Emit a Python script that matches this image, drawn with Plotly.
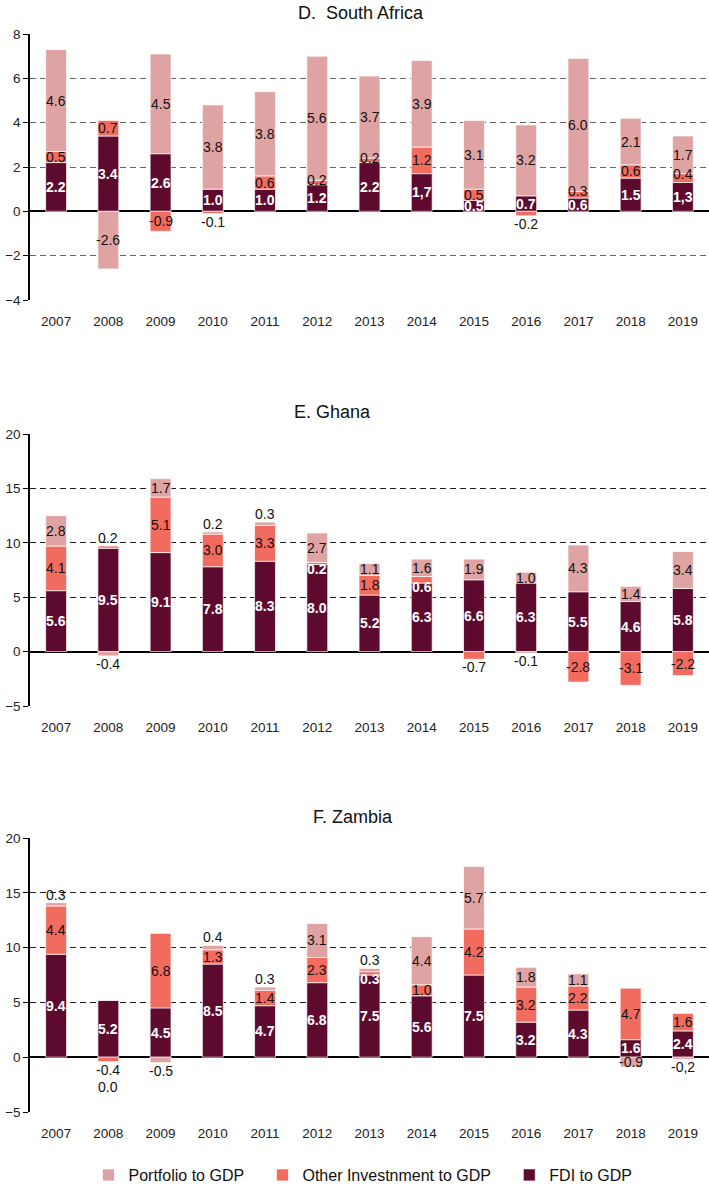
import plotly.graph_objects as go
from plotly.subplots import make_subplots

YEARS = list(range(2007, 2020))

# South Africa (% of GDP)
SA_FDI = [2.2, 3.4, 2.6, 1.0, 1.0, 1.2, 2.2, 1.7, 0.5, 0.7, 0.6, 1.5, 1.3]
SA_OTHER = [0.5, 0.7, -0.9, -0.1, 0.6, 0.2, 0.2, 1.2, 0.5, -0.2, 0.3, 0.6, 0.4]
SA_PORT = [4.6, -2.6, 4.5, 3.8, 3.8, 5.6, 3.7, 3.9, 3.1, 3.2, 6.0, 2.1, 1.7]

# Ghana
GH_FDI = [5.6, 9.5, 9.1, 7.8, 8.3, 8.0, 5.2, 6.3, 6.6, 6.3, 5.5, 4.6, 5.8]
GH_OTHER = [4.1, 0.2, 5.1, 3.0, 3.3, 0.2, 1.8, 0.6, -0.7, -0.1, -2.8, -3.1, -2.2]
GH_PORT = [2.8, -0.4, 1.7, 0.2, 0.3, 2.7, 1.1, 1.6, 1.9, 1.0, 4.3, 1.4, 3.4]

# Zambia
ZM_FDI = [9.4, 5.2, 4.5, 8.5, 4.7, 6.8, 7.5, 5.6, 7.5, 3.2, 4.3, 1.6, 2.4]
ZM_OTHER = [4.4, -0.4, 6.8, 1.3, 1.4, 2.3, 0.3, 1.0, 4.2, 3.2, 2.2, 4.7, 1.6]
ZM_PORT = [0.3, 0.0, -0.5, 0.4, 0.3, 3.1, 0.3, 4.4, 5.7, 1.8, 1.1, -0.9, -0.2]

SERIES = ["FDI to GDP", "Other Investnment to GDP", "Portfolio to GDP"]
COLORS = ["#5E0A2E", "#F16B5E", "#E0A3A3"]

# label quirks seen in the original
COMMA_LABELS = {("D", 2014, 0), ("D", 2019, 0), ("F", 2019, 2)}
WHITE_LABELS = {("E", 2012, 1), ("E", 2014, 1), ("F", 2013, 1)}

W, H = 709, 1188
ML = 30
FONT = "Liberation Sans, Arial, sans-serif"
PAD = "\u00a0" * 3

# key, title, series, y-range, dtick, plot top/bottom px, title centre (x, y) px, grid colour
panels = [
    ("D", "D.\u00a0 South Africa", [SA_FDI, SA_OTHER, SA_PORT], (-4, 8), 2, (34, 300), (361, 13), "#666666"),
    ("E", "E. Ghana", [GH_FDI, GH_OTHER, GH_PORT], (-5, 20), 5, (434, 706), (332, 412), "#222222"),
    ("F", "F. Zambia", [ZM_FDI, ZM_OTHER, ZM_PORT], (-5, 20), 5, (838, 1112), (353, 817), "#222222"),
]

fig = make_subplots(rows=3, cols=1)
anns = []

for r, (key, title, data, yr, dt, (ptop, pbot), (tx, ty), gcol) in enumerate(panels, start=1):
    for k, vals in enumerate(data):
        fig.add_trace(go.Bar(
            x=YEARS, y=vals, name=SERIES[k] + PAD, marker_color=COLORS[k],
            marker_line=dict(color="rgba(255,255,255,0.7)", width=1),
            showlegend=(r == 1), legendgroup=SERIES[k],
        ), row=r, col=1)

    sfx = "" if r == 1 else str(r)
    fig.update_layout(**{
        f"yaxis{sfx}": dict(domain=[1 - pbot / H, 1 - ptop / H]),
    })
    fig.update_yaxes(range=list(yr), dtick=dt, tick0=0, showgrid=True,
                     gridcolor=gcol, griddash="6px,4px", gridwidth=1,
                     zeroline=True, zerolinecolor="#000000", zerolinewidth=1.5,
                     showline=True, linecolor="#000000", linewidth=1.5,
                     ticks="outside", ticklen=5, tickcolor="#000000",
                     automargin=False,
                     tickfont=dict(size=13.5, color="#222"), row=r, col=1)
    fig.update_xaxes(type="linear", range=[YEARS[0] - 0.5, YEARS[-1] + 0.5],
                     dtick=1, tick0=YEARS[0], showgrid=False, zeroline=False,
                     showline=False, ticks="outside", ticklen=9,
                     tickcolor="rgba(0,0,0,0)", automargin=False,
                     tickfont=dict(size=13.5, color="#222"), row=r, col=1)

    ppu = (pbot - ptop) / (yr[1] - yr[0])
    for i, year in enumerate(YEARS):
        vals = [d[i] for d in data]
        pos_idx = [k for k, v in enumerate(vals) if v > 0]
        neg_idx = [k for k, v in enumerate(vals) if v < 0]
        pos_end = neg_end = 0.0
        n_out = {1: 0, -1: 0}
        for k, v in enumerate(vals):
            sign = 1 if v > 0 else -1
            base = pos_end if sign > 0 else neg_end
            top = base + v
            if sign > 0:
                pos_end = top
            else:
                neg_end = top
            group = pos_idx if sign > 0 else neg_idx
            outer = v == 0 or (len(group) > 0 and k == group[-1])
            small = abs(v) * ppu < 9
            white = k == 0 or (key, year, k) in WHITE_LABELS
            if k > 0 and white:
                # thin slice: label sits on the dark FDI bar just beneath it
                y, shift = base, -4
            elif small and outer:
                y, shift = top, sign * (8 + 17 * n_out[sign])
                n_out[sign] += 1
            elif small:
                y, shift = top, 0
            else:
                y, shift = (base + top) / 2, 0
            txt = f"{v:.1f}"
            if (key, year, k) in COMMA_LABELS:
                txt = txt.replace(".", ",")
            if white:
                txt = f"<b>{txt}</b>"
            anns.append(dict(
                x=year, y=y, xref=f"x{sfx}", yref=f"y{sfx}", yshift=shift,
                text=txt, showarrow=False,
                font=dict(size=14, color="#FFFFFF" if white else "#111111"),
            ))

    anns.append(dict(x=(tx - ML) / (W - ML), y=1 - ty / H, xref="paper", yref="paper",
                     text=title, showarrow=False, xanchor="center", yanchor="middle",
                     font=dict(size=18, color="#111")))

fig.update_layout(
    width=W, height=H,
    margin=dict(l=ML, r=0, t=0, b=0, autoexpand=False),
    barmode="relative", bargap=0.6,
    plot_bgcolor="white", paper_bgcolor="white",
    font=dict(family=FONT, color="#111"),
    annotations=anns,
    legend=dict(orientation="h", x=0.5, xanchor="center", y=1 - 1175 / H,
                yanchor="middle", traceorder="reversed",
                font=dict(size=16, color="#111"), itemwidth=30),
)

fig.write_html("out.html", config={"displayModeBar": False},
               post_script="document.body.style.margin='0';")
